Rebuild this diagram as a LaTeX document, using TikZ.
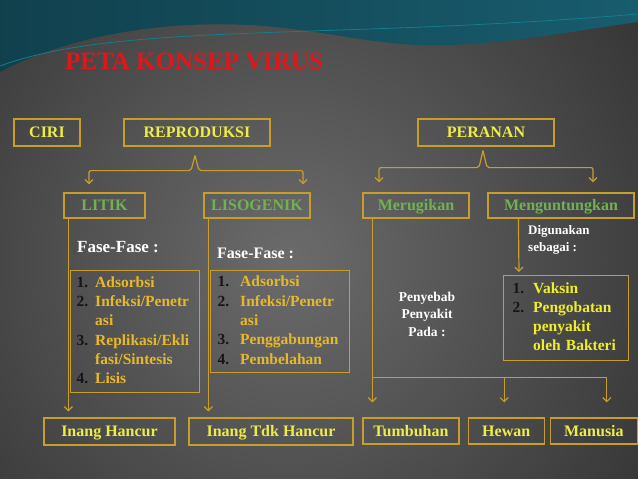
\documentclass[tikz,border=0pt]{standalone}
\usepackage{fontspec}
\setmainfont{Liberation Serif}
\usepackage{array}
\usepackage{xcolor}
\usepackage{tikz}
\usetikzlibrary{positioning,arrows.meta}
\definecolor{mygold}{RGB}{200,158,42}
\definecolor{myyellow}{RGB}{238,236,70}
\definecolor{mygreen}{RGB}{112,178,82}
\definecolor{myitem}{RGB}{232,184,40}
\definecolor{mybright}{RGB}{240,238,40}
\definecolor{mynum}{RGB}{22,22,22}
\definecolor{myred}{RGB}{225,22,28}
\definecolor{myteal}{RGB}{24,92,110}

\begin{document}
\begin{tikzpicture}[x=1pt, y=1pt,
    box/.style={draw=mygold, line width=1.2pt, inner sep=0pt, minimum height=27pt, text height=10.6pt, text depth=0pt, font=\fontsize{16}{19}\selectfont\bfseries},
    topbox/.style={box, text=myyellow},
    subbox/.style={box, text=mygreen, minimum height=25pt},
    listbox/.style={draw=mygold, line width=1.2pt, inner ysep=0pt, anchor=north west, align=left, font=\fontsize{15.5}{19.3}\selectfont\bfseries},
    note/.style={text=white, inner sep=0pt, font=\fontsize{13.5}{17.5}\selectfont\bfseries},
    conn/.style={draw=mygold, line width=1.2pt},
    arr/.style={conn, -{Straight Barb[length=4pt,width=8pt]}}]
    \useasboundingbox (0,0) rectangle (638,-479);
    \fill[black] (0,0) rectangle (638,-479);
    \begin{scope}
      \clip (0,0) rectangle (638,-479);
      \shade[inner color=black!58, outer color=black] (290,-260) circle (860pt);
      \shade[left color=myteal!70!black, right color=myteal] (0,0) -- (638,0) -- (638,-22) .. controls (580,-30) and (520,-42) .. (450,-45) .. controls (380,-48) and (330,-30) .. (250,-25) .. controls (150,-20) and (60,-40) .. (0,-72) -- cycle;
      \draw[myteal!80!cyan, line width=0.8pt] (0,-66) .. controls (120,-22) and (330,-40) .. (638,-14);
    \end{scope}

    \node[anchor=west, inner sep=0pt, text=myred, font=\fontsize{25}{30}\selectfont\bfseries] (title) at (65,-61) {PETA KONSEP VIRUS};

    \node[topbox, minimum width=66pt] (ciri) at (47,-132.5) {CIRI};
    \node[topbox, minimum width=146pt] (repro) at (197,-132.5) {REPRODUKSI};
    \node[topbox, minimum width=136pt] (peranan) at (486,-132.5) {PERANAN};

    \node[subbox, minimum width=81pt] (litik) at (104.5,-205.5) {LITIK};
    \node[subbox, minimum width=106pt] (lisogenik) at (257,-205.5) {LISOGENIK};
    \node[subbox, minimum width=106pt] (merugikan) at (416,-205.5) {Merugikan};
    \node[subbox, minimum width=146pt] (untung) at (561,-205.5) {Menguntungkan};

    \node[note, anchor=west, font=\fontsize{17}{20}\selectfont\bfseries] (fasea) at (77,-247) {Fase-Fase :};
    \node[note, anchor=west, font=\fontsize{16}{20}\selectfont\bfseries] (faseb) at (217,-253) {Fase-Fase :};

    \node[listbox, inner xsep=6pt, text width=117pt, minimum height=122pt] (lista) at (70,-270)
      {\begin{tabular}{@{}>{\color{mynum}}l@{\hspace{7pt}}>{\color{myitem}}l@{}}
        1. & Adsorbsi\\ 2. & Infeksi/Penetr\\ & asi\\ 3. & Replikasi/Ekli\\ & fasi/Sintesis\\ 4. & Lisis
      \end{tabular}};
    \node[listbox, inner xsep=7pt, text width=125pt, minimum height=102pt] (listb) at (210,-270)
      {\begin{tabular}{@{}>{\color{mynum}}l@{\hspace{11pt}}>{\color{myitem}}l@{}}
        1. & Adsorbsi\\ 2. & Infeksi/Penetr\\ & asi\\ 3. & Penggabungan\\ 4. & Pembelahan
      \end{tabular}};
    \node[listbox, inner xsep=9pt, text width=107pt, minimum height=85pt] (listc) at (503,-275)
      {\begin{tabular}{@{}>{\color{mynum}}l@{\hspace{9pt}}>{\color{mybright}}l@{}}
        1. & Vaksin\\ 2. & Pengobatan\\ & penyakit\\ & oleh Bakteri
      \end{tabular}};

    \node[note, align=center] (penyebab) at (427,-314) {Penyebab\\Penyakit\\Pada :};
    \node[note, anchor=west, align=left, font=\fontsize{13}{16.5}\selectfont\bfseries] (guna) at (528,-240) {Digunakan\\sebagai :};

    \node[topbox, minimum width=131pt] (inhancur) at (109.5,-431.5) {Inang Hancur};
    \node[topbox, minimum width=164pt] (intdk) at (271,-431.5) {Inang Tdk Hancur};
    \node[topbox, minimum width=96pt, minimum height=26pt] (tumbuhan) at (411,-431) {Tumbuhan};
    \node[topbox, minimum width=76pt, minimum height=26pt, right=8pt of tumbuhan] (hewan) {Hewan};
    \node[topbox, minimum width=87pt, minimum height=26pt, right=5pt of hewan] (manusia) {Manusia};

    \coordinate (rtip) at ([xshift=-2pt,yshift=-9pt]repro.south);
    \draw[arr, rounded corners=2pt] (rtip) -- ++(-4,-15) -| ([xshift=-15.5pt,yshift=8pt]litik.north);
    \draw[arr, rounded corners=2pt] (rtip) -- ++(4,-15) -| ([xshift=46pt,yshift=8pt]lisogenik.north);
    \coordinate (ptip) at ([xshift=-3pt,yshift=-4pt]peranan.south);
    \draw[arr, rounded corners=2pt] (ptip) -- ++(-4,-17) -| ([xshift=-37pt,yshift=10pt]merugikan.north);
    \draw[arr, rounded corners=2pt] (ptip) -- ++(4,-17) -| ([xshift=32pt,yshift=10pt]untung.north);

    \draw[arr] ([xshift=5pt]litik.south west) -- ([xshift=25pt,yshift=6pt]inhancur.north west);
    \draw[arr] ([xshift=5pt]lisogenik.south west) -- ([xshift=20pt,yshift=6pt]intdk.north west);
    \draw[arr] ([xshift=31pt]untung.south west) -- ([xshift=16pt,yshift=3pt]listc.north west);

    \coordinate (split) at ([xshift=10pt,yshift=40pt]tumbuhan.north west);
    \draw[conn] ([xshift=10pt]merugikan.south west) -- (split);
    \draw[arr] (split) -- ([xshift=10pt,yshift=15pt]tumbuhan.north west);
    \draw[arr] (split) -| ([xshift=-2pt,yshift=15pt]hewan.north);
    \draw[arr] (split) -| ([xshift=57pt,yshift=15pt]manusia.north west);
  \end{tikzpicture}
\end{document}
